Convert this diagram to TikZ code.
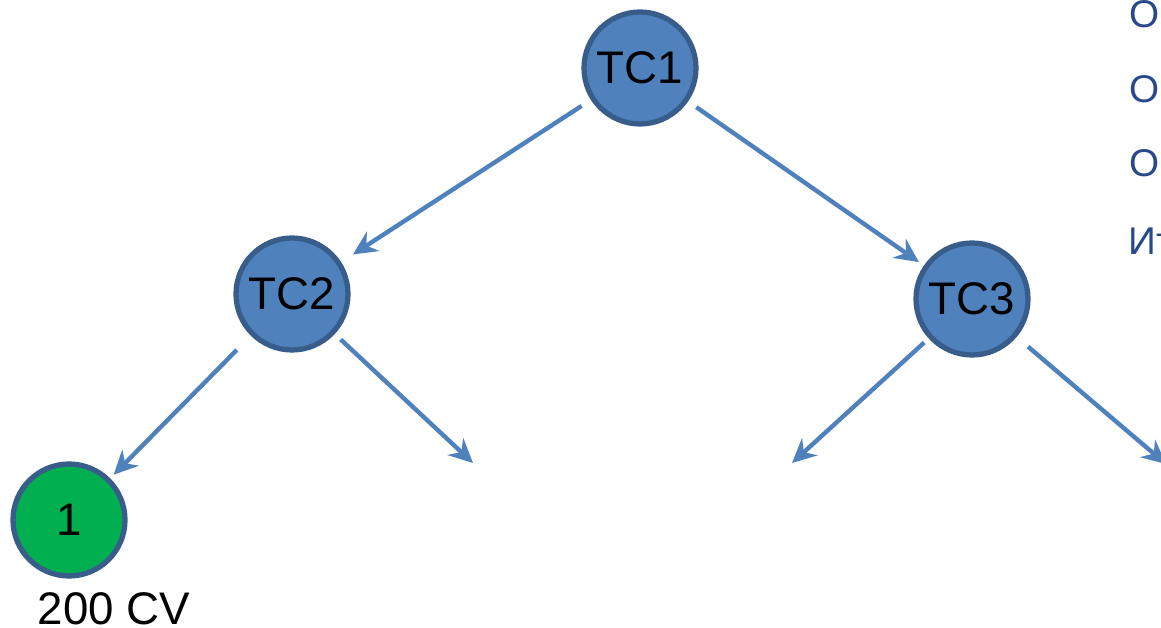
\documentclass[tikz,border=0pt]{standalone}
\usepackage{fontspec}
\setmainfont{Liberation Sans}
\usetikzlibrary{arrows.meta,positioning}
\definecolor{tcblue}{HTML}{4F81BD}
\definecolor{tcedge}{HTML}{385D8A}
\definecolor{leafgreen}{HTML}{00B050}
\definecolor{listblue}{HTML}{284A8C}

\begin{document}
\begin{tikzpicture}[x=0.02cm,y=-0.02cm,
every node/.style={circle,draw=tcedge,fill=tcblue,line width=3pt,
  minimum size=2.24cm,inner sep=0pt,font=\fontsize{26}{31}\selectfont},
txt/.style={draw=none,fill=none,rectangle,minimum size=0pt,inner sep=0pt,anchor=base},
item/.style={txt,anchor=base west,text=listblue,font=\fontsize{22}{26}\selectfont},
link/.style={draw=tcblue,line width=2.5pt,
  -{Stealth[length=0.48cm,width=0.46cm,inset=0.16cm]}}]
\useasboundingbox (0,0) rectangle (1161,628);
\node (T1) at (640,68) {TC1};
\node (T2) at (292,294) {TC2};
\node (T3) at (972,299) {TC3};
\node[fill=leafgreen] (L1) at (69,520) {1};
\node[txt] (cv) at (114,624) {200 CV};
\coordinate (E1) at (473,463);
\coordinate (E2) at (792,463);
\coordinate (E3) at (1166,464);
\draw[link,shorten <=11*0.02cm,shorten >=14*0.02cm] (T1)--(T2);
\draw[link,shorten <=10*0.02cm,shorten >=6*0.02cm] (T1)--(T3);
\draw[link,shorten <=20*0.02cm,shorten >=5*0.02cm] (T2)--(L1);
\draw[link,shorten <=8*0.02cm] (T2)--(E1);
\draw[link,shorten <=6*0.02cm] (T3)--(E2);
\draw[link,shorten <=15*0.02cm] (T3)--(E3);
\node[item] (o1) at (1127,28) {О};
\node[item] (o2) at (1127,103) {О};
\node[item] (o3) at (1127,177) {О};
\node[item] (o4) at (1126,255) {Ит};
\end{tikzpicture}
\end{document}
